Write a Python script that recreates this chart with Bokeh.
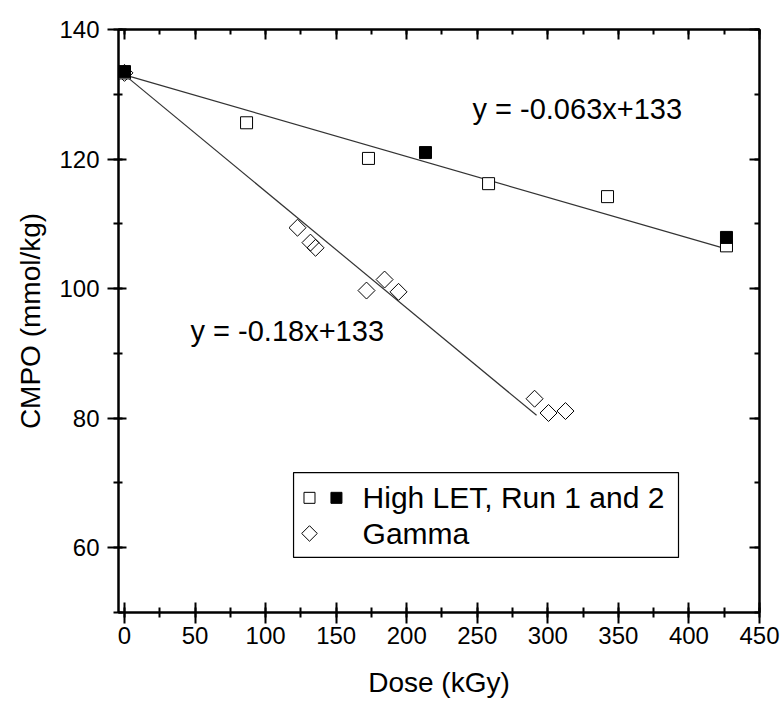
import numpy as np
from bokeh.plotting import figure
from bokeh.models import (Range1d, LinearAxis, SingleIntervalTicker, CustomJSTickFormatter,
                          BoxAnnotation, Label)
from bokeh.embed import file_html
from bokeh.resources import INLINE

# ---- data ----
let_open_dose = [0, 86.5, 172.9, 258.0, 342.3, 426.6]
let_open_cmpo = [133.3, 125.6, 120.1, 116.2, 114.2, 106.6]
let_fill_dose = [0, 213.3, 426.6]
let_fill_cmpo = [133.5, 121.0, 107.9]
gamma_dose = [0, 122.6, 131.8, 135.4, 171.5, 184.3, 194.2, 290.6, 300.5, 312.5]
gamma_cmpo = [133.3, 109.4, 107.1, 106.3, 99.7, 101.4, 99.5, 83.0, 80.8, 81.1]
let_fit = (-0.063, 133.0)
let_fit_range = [0, 427]
gamma_fit = (-0.18, 133.0)
gamma_fit_range = [0, 292]
let_eq = "y = -0.063x+133"
gamma_eq = "y = -0.18x+133"
legend_labels = ["High LET, Run 1 and 2", "Gamma"]
x_title = "Dose (kGy)"
y_title = "CMPO (mmol/kg)"

FONT = "Liberation Sans"

p = figure(frame_width=641, frame_height=583, output_backend="svg", toolbar_location=None,
           x_range=Range1d(-4.25, 450), y_range=Range1d(50, 140),
           min_border_left=118, min_border_right=22, min_border_top=29, min_border_bottom=90,
           background_fill_color="white", border_fill_color="white")
p.grid.visible = False
p.outline_line_color = "black"
p.outline_line_width = 2

xt = SingleIntervalTicker(interval=50, num_minor_ticks=2)
yt = SingleIntervalTicker(interval=20, num_minor_ticks=2)

def style_axis(ax, tin, tout, label=True):
    ax.axis_line_width = 2
    ax.axis_line_color = "black"
    ax.major_tick_line_width = 2
    ax.minor_tick_line_width = 2
    ax.major_tick_in = tin
    ax.major_tick_out = tout
    ax.minor_tick_in = tin // 2
    ax.minor_tick_out = tout // 2
    ax.major_label_text_font = FONT
    ax.major_label_text_font_size = "24px"
    ax.major_label_text_color = "black"
    ax.axis_label_text_font = FONT
    ax.axis_label_text_font_size = "28px"
    ax.axis_label_text_font_style = "normal"
    ax.axis_label_text_color = "black"
    if not label:
        ax.formatter = CustomJSTickFormatter(code="return ''")

xa = p.xaxis[0]
xa.ticker = xt
style_axis(xa, 10, 11)
xa.axis_label = x_title
xa.major_label_standoff = 3
xa.axis_label_standoff = 20

ya = p.yaxis[0]
ya.ticker = yt
style_axis(ya, 8, 11)
ya.axis_label = y_title
ya.major_label_standoff = 8
ya.axis_label_standoff = 10

top = LinearAxis(ticker=xt)
style_axis(top, 10, 0, label=False)
p.add_layout(top, "above")
right = LinearAxis(ticker=yt)
style_axis(right, 10, 0, label=False)
p.add_layout(right, "right")

# fit lines
lx = np.array(let_fit_range, dtype=float)
p.line(lx, let_fit[0] * lx + let_fit[1], line_color="#333333", line_width=1.2)
gx = np.array(gamma_fit_range, dtype=float)
p.line(gx, gamma_fit[0] * gx + gamma_fit[1], line_color="#333333", line_width=1.2)

# markers
p.scatter(gamma_dose, gamma_cmpo, marker="square", angle=np.pi / 4, size=12,
          fill_color="white", fill_alpha=0, line_color="black", line_width=1)
p.scatter(let_open_dose, let_open_cmpo, marker="square", size=12,
          fill_color="white", line_color="black", line_width=1)
p.scatter(let_fill_dose, let_fill_cmpo, marker="square", size=12,
          fill_color="black", line_color="black", line_width=1)

# equations
p.add_layout(Label(x=246.6, y=127.8, text=let_eq, text_font=FONT, text_font_size="29px",
                   text_baseline="middle", text_color="black"))
p.add_layout(Label(x=46.8, y=93.4, text=gamma_eq, text_font=FONT, text_font_size="29px",
                   text_baseline="middle", text_color="black"))

# legend (manual)
p.add_layout(BoxAnnotation(left=119.8, right=392.6, bottom=58.5, top=71.6, level="underlay",
                           fill_color="white", fill_alpha=1, line_color="black", line_alpha=1,
                           line_width=1.2))
p.scatter([131.1], [67.7], marker="square", size=11, fill_color="white", line_color="black")
p.scatter([150.2], [67.7], marker="square", size=11, fill_color="black", line_color="black")
p.scatter([131.1], [62.2], marker="square", angle=np.pi / 4, size=11, fill_color="white",
          line_color="black")
p.add_layout(Label(x=168.7, y=67.7, text=legend_labels[0], text_font=FONT, text_font_size="30px",
                   text_baseline="middle", text_color="black"))
p.add_layout(Label(x=168.7, y=62.2, text=legend_labels[1], text_font=FONT, text_font_size="30px",
                   text_baseline="middle", text_color="black"))

open("out.html", "w").write(file_html(p, INLINE))
